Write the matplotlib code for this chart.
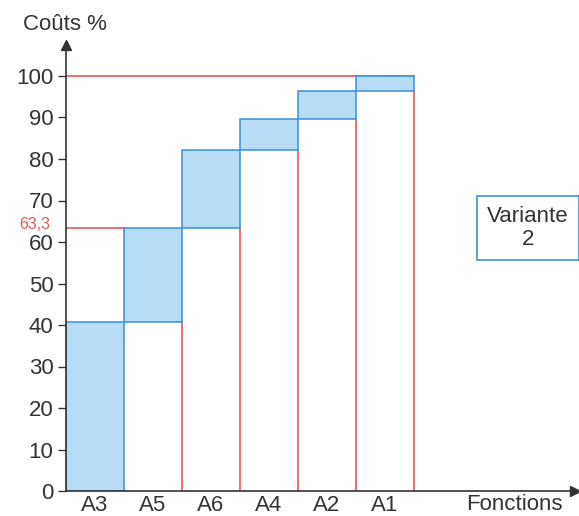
import matplotlib.pyplot as plt

# Data (cumulative cost %, Pareto order)
functions = ['A3', 'A5', 'A6', 'A4', 'A2', 'A1']
cumul = [40.7, 63.3, 82.2, 89.6, 96.4, 100]
yticks = [0, 10, 20, 30, 40, 50, 60, 70, 80, 90, 100]
marked_value = 63.3

plt.rcParams['font.family'] = ['Liberation Sans', 'DejaVu Sans']

fill_blue = '#b7dcf6'
edge_blue = '#3b8fd9'
red = '#e2575a'
axis_col = '#333333'

fig = plt.figure(figsize=(5.79, 5.16), dpi=100)
ax = fig.add_axes([66 / 579, 25 / 516, 509 / 579, 446 / 516])
ax.set_xlim(0, 509 / 58)
ax.set_ylim(0, 446 / 4.15)

bottoms = [0] + cumul[:-1]
heights = [t - b for t, b in zip(cumul, bottoms)]
xpos = [i + 0.5 for i in range(len(functions))]

# red guide lines
ax.plot([0, len(functions)], [100, 100], color=red, lw=1.2, zorder=1)
ax.plot([0, 1], [marked_value, marked_value], color=red, lw=1.2, zorder=1)
for i in range(1, len(functions)):
    ax.plot([i + 1, i + 1], [0, bottoms[i]], color=red, lw=1.2, zorder=1)

ax.bar(xpos, heights, bottom=bottoms, width=1.0, color=fill_blue,
       edgecolor=edge_blue, linewidth=1.1, zorder=2)

# axes styling
for s in ['top', 'right']:
    ax.spines[s].set_visible(False)
for s in ['left', 'bottom']:
    ax.spines[s].set_color(axis_col)
    ax.spines[s].set_linewidth(1.2)
ax.plot(1, 0, '>', color=axis_col, markersize=7, transform=ax.transAxes, clip_on=False)
ax.plot(0, 1, '^', color=axis_col, markersize=7, transform=ax.transAxes, clip_on=False)

ax.set_yticks(yticks)
ax.tick_params(axis='y', direction='out', length=6, width=1, colors=axis_col,
               labelsize=16, pad=3)
ax.set_xticks(xpos)
ax.set_xticklabels(functions)
ax.tick_params(axis='x', length=0, labelsize=16, colors=axis_col, pad=3)

ax.text(-0.27, marked_value + 1.0, '63,3', color=red, fontsize=11.5,
        ha='right', va='center', transform=ax.transData)

fig.text(65 / 579, 1 - 25 / 516, 'Coûts %', fontsize=16, color=axis_col,
         ha='center', va='center')
fig.text(514 / 579, 1 - 505 / 516, 'Fonctions', fontsize=16, color=axis_col,
         ha='center', va='center')
fig.text(528 / 579, 1 - 228 / 516, 'Variante\n2', fontsize=16, color=axis_col,
         ha='center', va='center', linespacing=1.1,
         bbox=dict(boxstyle='square,pad=0.45', fc='white', ec=edge_blue, lw=1.2))

fig.savefig('out.png', dpi=100)
